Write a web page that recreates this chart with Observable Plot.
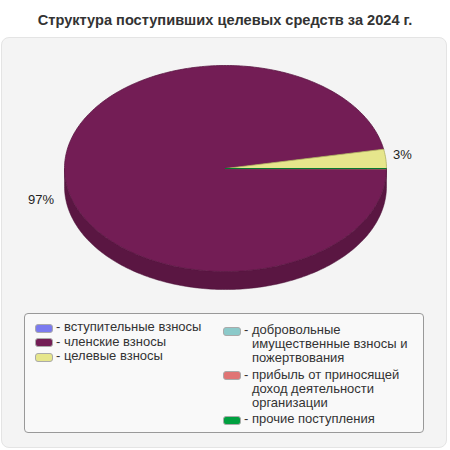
<!DOCTYPE html>
<html><head><meta charset="utf-8">
<script src="https://cdn.jsdelivr.net/npm/d3@7"></script>
<script src="https://cdn.jsdelivr.net/npm/@observablehq/plot@0.6"></script>
<style>
body{margin:0;background:#fff;font-family:"Liberation Sans",Arial,sans-serif;width:450px;height:450px;position:relative;overflow:hidden}
#title{position:absolute;left:0;top:12px;width:450px;text-align:center;font-weight:bold;font-size:14.6px;color:#333}
#panel{position:absolute;left:1px;top:37px;width:444px;height:409px;background:#f4f4f4;border:1px solid #e4e4e4;border-radius:8px}
#chart{position:absolute;left:0;top:0}
#legend{position:absolute;left:24px;top:313px;width:398px;height:118px;background:#f9f9f9;border:1px solid #999;border-radius:4px;font-size:13px;color:#333}
.col{position:absolute;top:6px}
.item{display:flex;align-items:flex-start;line-height:14.5px}
.sw{width:16px;height:7px;border:1px solid #aaa;border-radius:3px;margin-top:3.5px;margin-right:3px;flex:none}
.dash{flex:none;white-space:pre}
.col2 .item{margin-bottom:2.5px;line-height:14px}
</style></head>
<body>
<div id="title"></div>
<div id="panel"></div>
<div id="chart"></div>
<div id="legend"><div class="col col1" style="left:10px"></div><div class="col col2 " style="left:198px;top:9px;width:192px"></div></div>
<script>
const titleText = "Структура поступивших целевых средств за 2024 г.";
const categories = ["вступительные взносы","членские взносы","целевые взносы","добровольные имущественные взносы и пожертвования","прибыль от приносящей доход деятельности организации","прочие поступления"];
const values = [0, 97, 3, 0, 0, 0];
const colors = ["#7b7bef","#731d55","#e6e68c","#8ccaca","#e07474","#00a040"];
const strokes = ["#5c5cc0","#5a1642","#b0b060","#6aa0a0","#b05454","#007a30"];
const sideColors = ["#5c5cc0","#5a1642","#b8b870","#6aa0a0","#b05454","#007a30"];
const legendCol1 = [0,1,2];
const legendCol2 = [3,4,5];

document.getElementById("title").textContent = titleText;

const depth = 0.175;
const total = d3.sum(values);
const toRad = Math.PI/180;
let acc = 0;
const slices = values.map((v,i)=>{const a0 = acc/total*360; acc += v; const a1 = acc/total*360; return {i,v,a0,a1};});

const topPts = [], sidePts = [];
for (const s of slices) {
  topPts.push({k:s.i, x:0, y:0, fill:colors[s.i], stroke:strokes[s.i]});
  const n = Math.max(1, Math.ceil(s.a1 - s.a0));
  for (let j=0;j<=n;j++){const a=(s.a0+(s.a1-s.a0)*j/n)*toRad; topPts.push({k:s.i,x:Math.cos(a),y:Math.sin(a),fill:colors[s.i],stroke:strokes[s.i]});}
  const b0 = Math.max(s.a0,0), b1 = Math.min(s.a1,180);
  if (b1 > b0) {
    const m = Math.ceil(b1-b0); const up=[],dn=[];
    for (let j=0;j<=m;j++){const a=(b0+(b1-b0)*j/m)*toRad; up.push([Math.cos(a),Math.sin(a)]); dn.push([Math.cos(a),Math.sin(a)+depth]);}
    for (const p of up) sidePts.push({k:s.i,x:p[0],y:p[1],fill:sideColors[s.i]});
    for (const p of dn.reverse()) sidePts.push({k:s.i,x:p[0],y:p[1],fill:sideColors[s.i]});
  }
}
const labels = slices.filter(s=>s.v>0).map(s=>{const m=(s.a0+s.a1)/2*toRad; const c=Math.cos(m), sn=Math.sin(m); return {x:(c<0?1.07:1.045)*c, y:1.4*sn+(sn>0?depth:0), t:Math.round(s.v/total*100)+"%", anchor:c<0?"end":"start"};});

const chart = Plot.plot({
  width:450, height:300, margin:0,
  style:{background:"transparent", overflow:"visible"},
  x:{domain:[-1,1], range:[64,386], axis:null},
  y:{domain:[-1,1], range:[65,271], axis:null},
  color:{type:"identity"},
  marks:[
    Plot.line(sidePts,{x:"x",y:"y",z:"k",fill:"fill",stroke:"#4a1036",strokeWidth:0.5,curve:"linear-closed"}),
    Plot.line(topPts,{x:"x",y:"y",z:"k",fill:"fill",stroke:"stroke",strokeWidth:0.8,curve:"linear-closed"}),
    Plot.text(labels.filter(d=>d.anchor==="end"),{x:"x",y:"y",text:"t",textAnchor:"end",fontSize:13,fill:"#222",fontFamily:"Liberation Sans, Arial"}),
    Plot.text(labels.filter(d=>d.anchor==="start"),{x:"x",y:"y",text:"t",textAnchor:"start",fontSize:13,fill:"#222",fontFamily:"Liberation Sans, Arial"})
  ]
});
document.getElementById("chart").appendChild(chart);

function fillLegend(sel, idx){
  const el=document.querySelector(sel);
  for(const i of idx){
    const d=document.createElement("div"); d.className="item";
    const sw=document.createElement("div"); sw.className="sw"; sw.style.background=colors[i];
    const dash=document.createElement("div"); dash.className="dash"; dash.textContent="- ";
    const t=document.createElement("div"); t.textContent=categories[i];
    d.appendChild(sw); d.appendChild(dash); d.appendChild(t); el.appendChild(d);
  }
}
fillLegend(".col1",legendCol1); fillLegend(".col2",legendCol2);
</script>
</body></html>
